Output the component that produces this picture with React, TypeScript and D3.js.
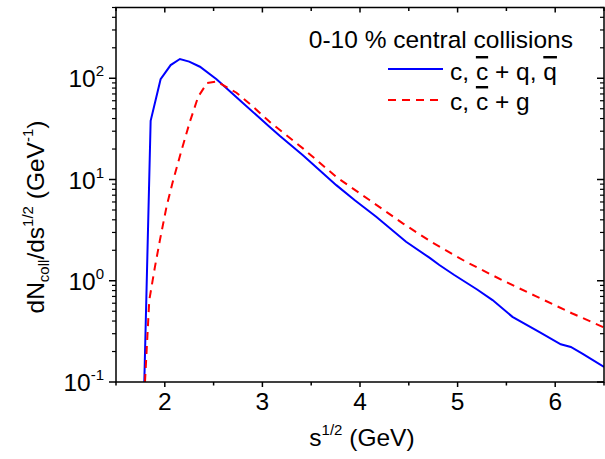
import React from "react";
import * as d3 from "d3";

const blueX = [1.79, 1.855, 1.957, 2.06, 2.155, 2.25, 2.36, 2.53, 2.8, 3.075, 3.177, 3.415, 3.757, 3.95, 4.166, 4.472, 4.711, 4.813, 4.966, 5.2, 5.358, 5.562, 5.835, 6.057, 6.16, 6.278, 6.5];
const blueY = [0.1, 38, 98, 135, 155, 146, 130, 98, 57, 33, 27, 17.4, 8.8, 6.2, 4.28, 2.43, 1.69, 1.43, 1.14, 0.82, 0.644, 0.44, 0.313, 0.236, 0.222, 0.191, 0.141];
const redX = [1.797, 1.841, 1.899, 1.95, 2.018, 2.086, 2.172, 2.257, 2.342, 2.434, 2.53, 2.734, 2.904, 3.085, 3.415, 3.757, 4.097, 4.438, 4.728, 5.086, 5.46, 5.8, 6.176, 6.5];
const redY = [0.1, 0.644, 1.37, 2.52, 5.4, 9.86, 19.5, 37.2, 65.7, 90, 93, 72, 52.4, 36.4, 20.3, 10.6, 6.27, 3.69, 2.43, 1.54, 1.01, 0.705, 0.475, 0.346];
const xTickLabels = [2, 3, 4, 5, 6];
const yDecades = [-1, 0, 1, 2];

const W = 605, H = 459;
const L = 116, R = 604, T = 7.5, B = 382;
const FONT = "'Liberation Sans', Arial, sans-serif";
const FS = 24.5;
const SS = 15;

export default function App() {
  const x = d3.scaleLinear().domain([1.5, 6.5]).range([L, R]);
  const y = d3.scaleLog().domain([0.1, 500]).range([B, T]);
  const line = d3.line<[number, number]>().x(d => x(d[0])).y(d => y(d[1]));
  const blue = blueX.map((v, i) => [v, blueY[i]] as [number, number]);
  const red = redX.map((v, i) => [v, redY[i]] as [number, number]);

  const xt = d3.range(1.5, 6.5001, 0.5);
  const minors: number[] = [];
  for (const k of [-1, 0, 1, 2]) for (let m = 2; m <= 9; m++) { const v = m * Math.pow(10, k); if (v <= 500) minors.push(v); }

  return (
    <svg width={W} height={H} style={{ position: "absolute", left: 0, top: 0 }} fontFamily={FONT}>
      <defs>
        <clipPath id="plot"><rect x={L} y={T} width={R - L} height={B - T} /></clipPath>
      </defs>
      <rect x={0} y={0} width={W} height={H} fill="#fff" />
      <g clipPath="url(#plot)" fill="none" strokeWidth={2}>
        <path d={line(blue) || ""} stroke="#0000ff" />
        <path d={line(red) || ""} stroke="#ff0000" strokeDasharray="8,6" />
      </g>
      <rect x={L} y={T} width={R - L} height={B - T} fill="none" stroke="#000" strokeWidth={1.5} />
      {xt.map(v => {
        const major = Math.abs(v - Math.round(v)) < 1e-6;
        return (
          <g key={"xt" + v}>
            <line x1={x(v)} x2={x(v)} y1={B} y2={B + (major ? 5 : 3.5)} stroke="#000" strokeWidth={1.5} />
            <line x1={x(v)} x2={x(v)} y1={T} y2={T + (major ? 5 : 3.5)} stroke="#000" strokeWidth={1.5} />
          </g>
        );
      })}
      {xTickLabels.map(v => (
        <text key={"xl" + v} x={x(v)} y={410} fontSize={FS} textAnchor="middle">{v}</text>
      ))}
      {minors.map(v => (
        <g key={"ym" + v}>
          <line x1={L - 4} x2={L} y1={y(v)} y2={y(v)} stroke="#000" strokeWidth={1.2} />
          <line x1={R - 4} x2={R} y1={y(v)} y2={y(v)} stroke="#000" strokeWidth={1.2} />
        </g>
      ))}
      {yDecades.map(k => (
        <g key={"yd" + k}>
          <line x1={L - 7} x2={L} y1={y(Math.pow(10, k))} y2={y(Math.pow(10, k))} stroke="#000" strokeWidth={1.5} />
          <line x1={R - 7} x2={R} y1={y(Math.pow(10, k))} y2={y(Math.pow(10, k))} stroke="#000" strokeWidth={1.5} />
          <text x={104} y={y(Math.pow(10, k)) + 9} fontSize={FS} textAnchor="end">
            10<tspan fontSize={SS} dy={-11}>{k}</tspan>
          </text>
        </g>
      ))}
      <text transform={`translate(44, 217) rotate(-90)`} fontSize={FS} textAnchor="middle">
        dN<tspan fontSize={SS} dy={5}>coll</tspan><tspan dy={-5}>/ds</tspan><tspan fontSize={SS} dy={-11}>1/2</tspan><tspan dy={11}> (GeV</tspan><tspan fontSize={SS} dy={-11}>-1</tspan><tspan dy={11}>)</tspan>
      </text>
      <text x={362} y={446} fontSize={FS} textAnchor="middle">
        s<tspan fontSize={SS} dy={-11}>1/2</tspan><tspan dy={11}> (GeV)</tspan>
      </text>
      <text x={573} y={48} fontSize={FS} textAnchor="end">0-10 % central collisions</text>
      <line x1={388} x2={443} y1={69} y2={69} stroke="#0000ff" strokeWidth={2} />
      <text x={450} y={80} fontSize={FS}>
        c, <tspan style={{ textDecoration: "overline" }}>c</tspan> + q, <tspan style={{ textDecoration: "overline" }}>q</tspan>
      </text>
      <line x1={388} x2={443} y1={100} y2={100} stroke="#ff0000" strokeWidth={2} strokeDasharray="8,6" />
      <text x={450} y={110} fontSize={FS}>
        c, <tspan style={{ textDecoration: "overline" }}>c</tspan> + g
      </text>
    </svg>
  );
}
